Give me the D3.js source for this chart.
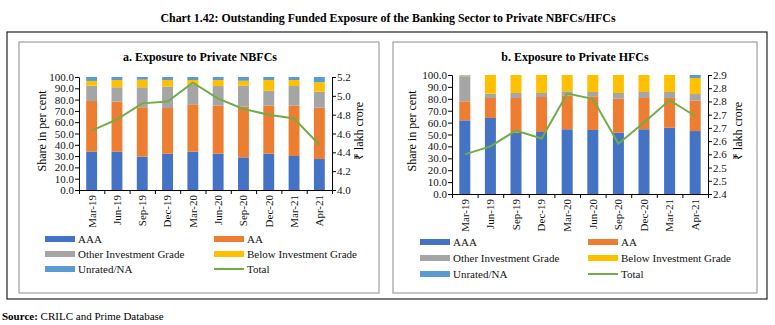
<!DOCTYPE html>
<html>
<head>
<meta charset="utf-8">
<script src="https://cdn.jsdelivr.net/npm/d3@7"></script>
<style>
  body { margin: 0; background: #fff; }
  svg { display: block; font-family: "Liberation Serif", serif; }
</style>
</head>
<body>
<svg id="chart" width="775" height="325"></svg>
<script>
// Quarters on the x axis
const quarters = ["Mar-19", "Jun-19", "Sep-19", "Dec-19", "Mar-20", "Jun-20", "Sep-20", "Dec-20", "Mar-21", "Apr-21"];
const grades = ["AAA", "AA", "Other Investment Grade", "Below Investment Grade", "Unrated/NA"];
const gradeColors = ["#4472C4", "#ED7D31", "#A5A5A5", "#FFC000", "#5B9BD5"];
const totalColor = "#70AD47";

// Private NBFCs: share in per cent by rating, total in lakh crore
const nbfcAAA = [33.9, 33.9, 29.5, 32.1, 33.9, 32.1, 28.9, 32.1, 30.1, 27.4];
const nbfcAA = [44.9, 44.3, 43.7, 40.5, 41.9, 42.5, 44.8, 42.5, 44.5, 45.4];
const nbfcOther = [13.5, 12.7, 17.7, 18.8, 17.1, 17.4, 18.6, 13.3, 17.4, 14.2];
const nbfcBelow = [4.2, 6.4, 6.7, 5.9, 4.4, 5.3, 4.4, 9.4, 5.3, 8.3];
const nbfcUnrated = [3.5, 2.7, 2.4, 2.7, 2.7, 2.7, 3.3, 2.7, 2.7, 4.7];
const nbfcTotal = [4.63, 4.75, 4.92, 4.94, 5.14, 4.97, 4.86, 4.80, 4.76, 4.48];

// Private HFCs
const hfcAAA = [61.9, 63.9, 51.5, 52.1, 54.4, 53.8, 51.5, 54.4, 55.7, 52.9];
const hfcAA = [16.0, 16.8, 29.2, 29.4, 28.5, 28.3, 28.6, 26.3, 25.0, 25.5];
const hfcOther = [21.1, 3.6, 4.2, 3.4, 3.4, 3.6, 4.8, 5.0, 5.0, 5.6];
const hfcBelow = [0.7, 15.7, 15.1, 15.1, 13.7, 14.3, 15.1, 14.3, 14.3, 13.5];
const hfcUnrated = [0.3, 0.0, 0.0, 0.0, 0.0, 0.0, 0.0, 0.0, 0.0, 2.5];
const hfcTotal = [2.55, 2.58, 2.64, 2.61, 2.78, 2.76, 2.59, 2.67, 2.755, 2.695];

// Axis ticks
const shareTicks = [0, 10, 20, 30, 40, 50, 60, 70, 80, 90, 100];
const nbfcTotalTicks = [4.0, 4.2, 4.4, 4.6, 4.8, 5.0, 5.2];
const nbfcTotalTickLabels = ["4.0", "4.2", "4.4", "4.6", "4.8", "5.0", "5.2"];
const hfcTotalTicks = [2.4, 2.45, 2.5, 2.55, 2.6, 2.65, 2.7, 2.75, 2.8, 2.85];
const hfcTotalTickLabels = ["2.4", "2.5", "2.5", "2.6", "2.6", "2.7", "2.7", "2.8", "2.8", "2.9"];

const svg = d3.select("#chart");

// Chart title
svg.append("text")
  .attr("x", 388)
  .attr("y", 22)
  .attr("text-anchor", "middle")
  .attr("font-size", "12.5px")
  .attr("font-weight", "bold")
  .attr("textLength", 455)
  .attr("lengthAdjust", "spacingAndGlyphs")
  .text("Chart 1.42: Outstanding Funded Exposure of the Banking Sector to Private NBFCs/HFCs");

// Outer frame
svg.append("rect")
  .attr("x", 7).attr("y", 32)
  .attr("width", 760).attr("height", 267)
  .attr("fill", "none")
  .attr("stroke", "#222")
  .attr("stroke-width", 1.2);

// Source line
const src = svg.append("text")
  .attr("x", 2)
  .attr("y", 320)
  .attr("font-size", "11px");
src.append("tspan").attr("font-weight", "bold").text("Source: ");
src.append("tspan").text("CRILC and Prime Database");

function drawPanel(p) {
  const g = svg.append("g");

  g.append("rect")
    .attr("x", p.box[0]).attr("y", p.box[1])
    .attr("width", p.box[2]).attr("height", p.box[3])
    .attr("fill", "none")
    .attr("stroke", "#8c8c8c")
    .attr("stroke-width", 1);

  g.append("text")
    .attr("x", p.titleX)
    .attr("y", p.titleY)
    .attr("text-anchor", "middle")
    .attr("font-size", "12px")
    .attr("font-weight", "bold")
    .text(p.title);

  const x = d3.scaleBand().domain(quarters).range([p.x0, p.x1]).paddingInner(0.57).paddingOuter(0.285);
  const y = d3.scaleLinear().domain([0, 100]).range([p.yBottom, p.yTop]);
  const yR = d3.scaleLinear().domain(p.totalDomain).range([p.yBottom, p.yTop]);

  // Stack the rating shares
  const rows = quarters.map((q, i) => {
    const r = { quarter: q };
    grades.forEach((gr, k) => { r[gr] = p.shares[k][i]; });
    return r;
  });
  const stacked = d3.stack().keys(grades)(rows);

  g.selectAll("g.layer")
    .data(stacked)
    .enter()
    .append("g")
    .attr("class", "layer")
    .attr("fill", (d, k) => gradeColors[k])
    .selectAll("rect")
    .data((d) => d)
    .enter()
    .append("rect")
    .attr("x", (d) => x(d.data.quarter))
    .attr("y", (d) => y(d[1]))
    .attr("width", x.bandwidth())
    .attr("height", (d) => Math.max(0, y(d[0]) - y(d[1])));

  // Total exposure line
  const line = d3.line()
    .x((d, i) => x(quarters[i]) + x.bandwidth() / 2)
    .y((d) => yR(d));
  g.append("path")
    .datum(p.total)
    .attr("d", line)
    .attr("fill", "none")
    .attr("stroke", totalColor)
    .attr("stroke-width", 2);

  // Left axis
  const left = g.append("g")
    .attr("transform", `translate(${p.x0},0)`)
    .call(d3.axisLeft(y).tickValues(shareTicks).tickFormat(d3.format(".1f")).tickSizeOuter(0).tickSize(4));
  // Right axis
  const right = g.append("g")
    .attr("transform", `translate(${p.x1},0)`)
    .call(d3.axisRight(yR).tickValues(p.totalTicks).tickFormat((d, i) => p.totalTickLabels[i]).tickSizeOuter(0).tickSize(4));
  // Category boundaries on the x axis
  const xb = d3.scaleLinear().domain([0, quarters.length]).range([p.x0, p.x1]);
  const bottom = g.append("g")
    .attr("transform", `translate(0,${p.yBottom})`)
    .call(d3.axisBottom(xb).tickValues(d3.range(quarters.length + 1)).tickFormat("").tickSizeOuter(0).tickSize(4));

  [left, right, bottom].forEach((a) => {
    a.selectAll("path, line").attr("stroke", "#000").attr("stroke-width", 1);
    a.selectAll("text")
      .attr("font-family", "Liberation Serif, serif")
      .attr("font-size", "11px")
      .attr("fill", "#111");
  });
  left.selectAll("text").attr("x", -5);
  right.selectAll("text").attr("x", 5);

  // Rotated quarter labels
  g.selectAll("text.qlabel")
    .data(quarters)
    .enter()
    .append("text")
    .attr("class", "qlabel")
    .attr("transform", (d) => `translate(${x(d) + x.bandwidth() / 2},${p.yBottom + 5}) rotate(-90)`)
    .attr("text-anchor", "end")
    .attr("dy", "0.35em")
    .attr("font-size", "11px")
    .attr("fill", "#111")
    .text((d) => d);

  // Axis titles
  g.append("text")
    .attr("transform", `translate(${p.leftTitleX},${p.axisTitleY}) rotate(-90)`)
    .attr("text-anchor", "middle")
    .attr("dy", "0.35em")
    .attr("font-size", "12px")
    .text("Share in per cent");
  g.append("text")
    .attr("transform", `translate(${p.rightTitleX},${p.axisTitleY}) rotate(-90)`)
    .attr("text-anchor", "middle")
    .attr("dy", "0.35em")
    .attr("font-size", "12px")
    .text("₹ lakh crore");

  // Legend: two columns, three rows
  const items = grades.map((gr, k) => ({ name: gr, color: gradeColors[k], kind: "bar" }))
    .concat([{ name: "Total", color: totalColor, kind: "line" }]);
  const leg = g.selectAll("g.leg")
    .data(items)
    .enter()
    .append("g")
    .attr("class", "leg")
    .attr("transform", (d, i) => `translate(${p.legendCols[i % 2]},${p.legendRows[Math.floor(i / 2)]})`);
  leg.append("rect")
    .attr("x", 0)
    .attr("y", (d) => (d.kind === "bar" ? -3 : -1))
    .attr("width", 30)
    .attr("height", (d) => (d.kind === "bar" ? 6 : 2))
    .attr("fill", (d) => d.color);
  leg.append("text")
    .attr("x", 33)
    .attr("dy", "0.35em")
    .attr("font-size", "11px")
    .attr("fill", "#111")
    .text((d) => d.name);
}

drawPanel({
  title: "a. Exposure to Private NBFCs",
  box: [19, 42, 360, 251],
  titleX: 200, titleY: 61,
  x0: 79, x1: 332, yTop: 77, yBottom: 190,
  shares: [nbfcAAA, nbfcAA, nbfcOther, nbfcBelow, nbfcUnrated],
  total: nbfcTotal,
  totalDomain: [4.0, 5.2],
  totalTicks: nbfcTotalTicks,
  totalTickLabels: nbfcTotalTickLabels,
  leftTitleX: 42, rightTitleX: 359, axisTitleY: 131,
  legendCols: [45, 214],
  legendRows: [239, 254, 269]
});

drawPanel({
  title: "b. Exposure to Private HFCs",
  box: [393, 42, 364, 251],
  titleX: 575, titleY: 61,
  x0: 452, x1: 708, yTop: 75, yBottom: 194,
  shares: [hfcAAA, hfcAA, hfcOther, hfcBelow, hfcUnrated],
  total: hfcTotal,
  totalDomain: [2.4, 2.85],
  totalTicks: hfcTotalTicks,
  totalTickLabels: hfcTotalTickLabels,
  leftTitleX: 412, rightTitleX: 738, axisTitleY: 131,
  legendCols: [420, 588],
  legendRows: [242, 258, 274]
});
</script>
</body>
</html>
